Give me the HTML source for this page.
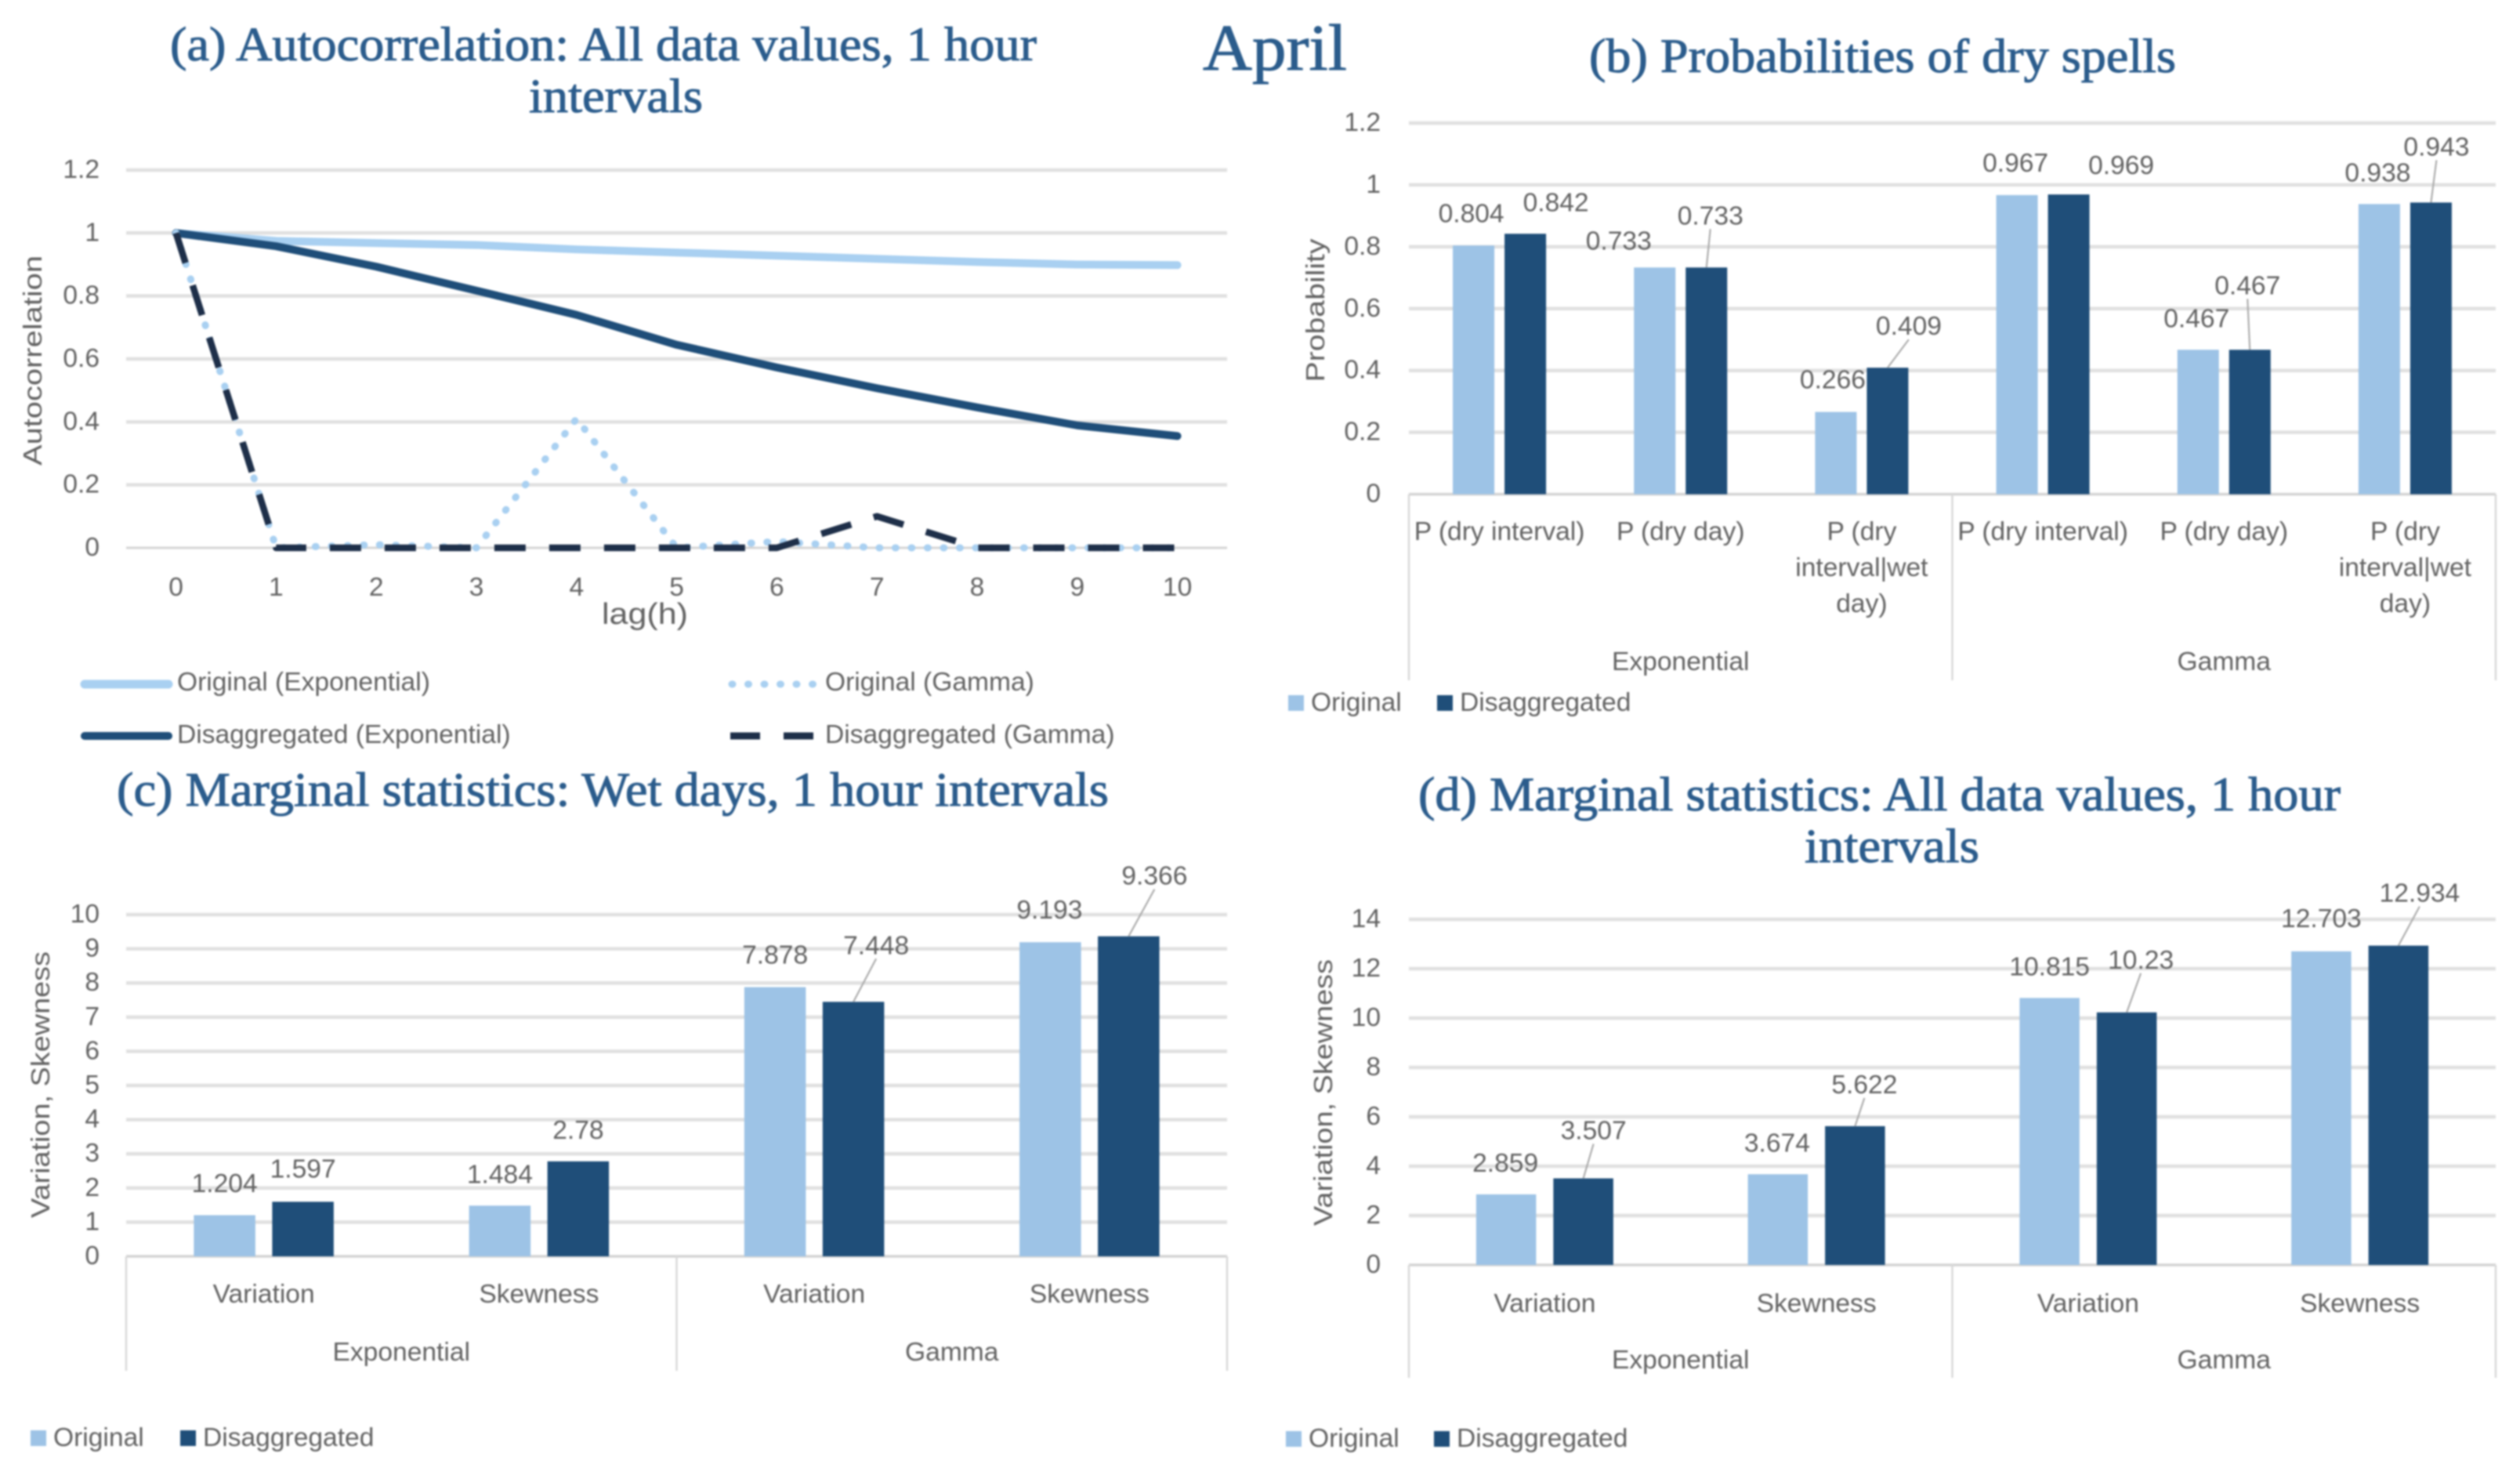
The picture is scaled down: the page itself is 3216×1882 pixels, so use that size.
<!DOCTYPE html>
<html lang="en">
<head>
<meta charset="utf-8">
<title>April disaggregation statistics</title>
<style>
html,body{margin:0;padding:0;background:#fff;}
#root{display:block;width:3216px;height:1882px;filter:blur(1.1px);}
.t{font-family:"Liberation Sans",sans-serif;font-size:33.6px;fill:#626262;}
.title{font-family:"Liberation Serif",serif;font-size:61px;fill:#2b5c8c;stroke:#2b5c8c;stroke-width:1px;}
</style>
</head>
<body>
<svg id="root" xmlns="http://www.w3.org/2000/svg" width="3216" height="1882" viewBox="0 0 3216 1882">
<rect width="3216" height="1882" fill="#fff"/>
<text class="title" x="1535" y="89" style="font-size:84px" textLength="184" lengthAdjust="spacingAndGlyphs">April</text>
<text class="title" x="217" y="77" textLength="1106" lengthAdjust="spacingAndGlyphs">(a) Autocorrelation: All data values, 1 hour</text>
<text class="title" x="675" y="143" textLength="222" lengthAdjust="spacingAndGlyphs">intervals</text>
<text class="title" x="2028" y="92" textLength="749" lengthAdjust="spacingAndGlyphs">(b) Probabilities of dry spells</text>
<text class="title" x="149" y="1028" textLength="1266" lengthAdjust="spacingAndGlyphs">(c) Marginal statistics: Wet days, 1 hour intervals</text>
<text class="title" x="1810" y="1034" textLength="1177" lengthAdjust="spacingAndGlyphs">(d) Marginal statistics: All data values, 1 hour</text>
<text class="title" x="2303" y="1100" textLength="223" lengthAdjust="spacingAndGlyphs">intervals</text>
<g id="charts"></g>
</svg>
<script>
// ---- Chart (a) data
const lags = ['0','1','2','3','4','5','6','7','8','9','10'];
const aYTicks = [0,0.2,0.4,0.6,0.8,1,1.2];
const origExp = [1,0.975,0.968,0.962,0.948,0.938,0.928,0.918,0.908,0.9,0.898];
const disExp = [1,0.958,0.893,0.817,0.74,0.645,0.573,0.507,0.446,0.389,0.355];
const origGamma = [1,0,0.01,0,0.41,0,0.02,0,0,0,0];
const disGamma = [1,0,0,0,0,0,0,0.1,0,0,0];

// ---- Chart (b) data
const bYTicks = [0,0.2,0.4,0.6,0.8,1,1.2];
const bCategories = [['P (dry interval)'],['P (dry day)'],['P (dry','interval|wet','day)'],['P (dry interval)'],['P (dry day)'],['P (dry','interval|wet','day)']];
const bOriginal = [0.804,0.733,0.266,0.967,0.467,0.938];
const bDisaggregated = [0.842,0.733,0.409,0.969,0.467,0.943];

// ---- Chart (c) data
const cYTicks = [0,1,2,3,4,5,6,7,8,9,10];
const cCategories = [['Variation'],['Skewness'],['Variation'],['Skewness']];
const cOriginal = [1.204,1.484,7.878,9.193];
const cDisaggregated = [1.597,2.78,7.448,9.366];

// ---- Chart (d) data
const dYTicks = [0,2,4,6,8,10,12,14];
const dCategories = [['Variation'],['Skewness'],['Variation'],['Skewness']];
const dOriginal = [2.859,3.674,10.815,12.703];
const dDisaggregated = [3.507,5.622,10.23,12.934];

const groups = ['Exponential','Gamma'];

const NS = 'http://www.w3.org/2000/svg';
const root = document.getElementById('charts');
const LIGHT = '#9dc3e6', DARK = '#1f4e79', GRID = '#e0e0e0';

function line(name, x1, y1, x2, y2, stroke, w) {
  const el = document.createElementNS(NS, 'line');
  
  
  el.setAttribute('x1', x1); el.setAttribute('y1', y1);
  el.setAttribute('x2', x2); el.setAttribute('y2', y2);
  el.setAttribute('stroke', stroke); el.setAttribute('stroke-width', w);
  root.appendChild(el);
  return el;
}
function rect(name, x, y, w, h, fill) {
  const el = document.createElementNS(NS, 'rect');
  
  
  el.setAttribute('x', x); el.setAttribute('y', y);
  el.setAttribute('width', w); el.setAttribute('height', h);
  el.setAttribute('fill', fill);
  root.appendChild(el);
  return el;
}
function text(name, x, cy, str, anchor, rot, len) {
  const el = document.createElementNS(NS, 'text');
  
  
  el.setAttribute('class', 't');
  el.setAttribute('text-anchor', anchor || 'middle');
  if (rot) {
    el.setAttribute('transform', 'translate(' + x + ',' + cy + ') rotate(-90)');
    el.setAttribute('x', 0); el.setAttribute('y', 12);
  } else {
    el.setAttribute('x', x); el.setAttribute('y', cy + 10);
  }
  if (len) {
    el.setAttribute('textLength', len);
    el.setAttribute('lengthAdjust', 'spacingAndGlyphs');
  }
  el.textContent = str;
  root.appendChild(el);
  return el;
}
function legendBars(c) {
  rect(c.id + '-legend-swatch-original', c.legend[0], c.legend[2] - 10, 20, 20, LIGHT);
  text(c.id + '-legend-label-original', c.legend[0] + 29, c.legend[2], 'Original', 'start');
  rect(c.id + '-legend-swatch-disaggregated', c.legend[1], c.legend[2] - 10, 20, 20, DARK);
  text(c.id + '-legend-label-disaggregated', c.legend[1] + 29, c.legend[2], 'Disaggregated', 'start');
}

// ---- Chart (a): line chart
(function () {
  const L = 161, R = 1566, Y0 = 699, K = 401.7, X0 = 224.6, DX = 127.8;
  const sx = i => X0 + DX * i;
  const sy = v => Y0 - K * v;
  aYTicks.forEach(t => {
    line('chart-a-gridline', L, sy(t), R, sy(t), t === 0 ? '#d4d4d4' : GRID, t === 0 ? 3 : 4.5);
    text('chart-a-y-tick', 127, sy(t), String(t), 'end');
  });
  lags.forEach((s, i) => text('chart-a-x-tick', sx(i), 750, s));
  text('chart-a-x-axis-title', 823, 786, 'lag(h)', 'middle', false, 110).style.fontSize = '38px';
  text('chart-a-y-axis-title', 41, 460, 'Autocorrelation', 'middle', true, 268);
  function series(name, vals, color, w, dash, cap) {
    const el = document.createElementNS(NS, 'polyline');
    
    
    el.setAttribute('points', vals.map((v, i) => sx(i) + ',' + sy(v)).join(' '));
    el.setAttribute('fill', 'none');
    el.setAttribute('stroke', color);
    el.setAttribute('stroke-width', w);
    el.setAttribute('stroke-linejoin', 'round');
    el.setAttribute('stroke-linecap', cap);
    if (dash) el.setAttribute('stroke-dasharray', dash);
    root.appendChild(el);
  }
  series('series-original-exponential', origExp, '#a9d0f1', 10, '', 'round');
  series('series-disaggregated-exponential', disExp, '#1f4e79', 10, '', 'round');
  series('series-original-gamma', origGamma, '#a9d0f1', 9, '1 19.5', 'round');
  series('series-disaggregated-gamma', disGamma, '#1e2f49', 8.5, '40 30', 'butt');
  function legendLine(name, x1, x2, y, color, w, dash, cap) {
    const el = line(name, x1, y, x2, y, color, w);
    el.setAttribute('stroke-linecap', cap);
    if (dash) el.setAttribute('stroke-dasharray', dash);
  }
  legendLine('legend-line-original-exponential', 108, 215, 873, '#a9d0f1', 11, '', 'round');
  text('legend-label-original-exponential', 226, 871, 'Original (Exponential)', 'start');
  legendLine('legend-line-disaggregated-exponential', 108, 215, 939, '#1f4e79', 10, '', 'round');
  text('legend-label-disaggregated-exponential', 226, 938, 'Disaggregated (Exponential)', 'start');
  legendLine('legend-line-original-gamma', 934, 1041, 873, '#a9d0f1', 9, '1 19.5', 'round');
  text('legend-label-original-gamma', 1053, 871, 'Original (Gamma)', 'start');
  legendLine('legend-line-disaggregated-gamma', 932, 1041, 939, '#1e2f49', 9, '38 30', 'butt');
  text('legend-label-disaggregated-gamma', 1053, 938, 'Disaggregated (Gamma)', 'start');
})();

// ---- Bar charts
function barChart(c) {
  const sy = v => c.y0 - c.k * v;
  const n = c.cats.length;
  const cw = (c.R - c.L) / n;
  c.ticks.forEach(t => {
    if (t !== 0) line(c.id + '-gridline', c.L, sy(t), c.R, sy(t), GRID, 4.5);
    text(c.id + '-y-tick', c.L - 36 + (c.id === 'chart-b' || c.id === 'chart-d' ? 0 : 2), sy(t), String(t), 'end');
  });
  text(c.id + '-y-axis-title', c.titleX, c.titleY, c.title, 'middle', true, c.titleLen);
  line(c.id + '-x-axis', c.L, c.y0, c.R, c.y0, '#d4d4d4', 3.5);
  [c.L, (c.L + c.R) / 2, c.R].forEach(x => line(c.id + '-group-divider', x, c.y0, x, c.tickEnd, '#d9d9d9', 2.5));
  c.cats.forEach((ls, i) => {
    ls.forEach((s, j) => text(c.id + '-category-label', c.L + cw * (i + .5), c.catY + j * 46, s));
  });
  groups.forEach((g, i) => text(c.id + '-group-label', c.L + (c.R - c.L) * (i * .5 + .25), c.groupY, g));

  const off = c.barW / 2 + c.gap / 2;
  function labels(vals, sgn, dxs, dys, lead, nm) {
    vals.forEach((v, i) => {
      const cx = c.L + cw * (i + .5) + sgn * off;
      const lx = cx + dxs[i], ly = sy(v) + dys[i];
      text(c.id + '-value-label-' + nm, lx, ly, String(v));
      if (lead[i]) line(c.id + '-leader-line', lx, ly + 16, cx, sy(v), '#a6a6a6', 2);
    });
  }
  // labels are drawn first so the neighbouring bar can clip them, as in the source
  labels(c.orig, -1, c.oDx, c.oDy, c.orig.map(() => 0), 'original');
  c.orig.forEach((v, i) => {
    const cx = c.L + cw * (i + .5) - off;
    rect(c.id + '-bar-original', cx - c.barW / 2, sy(v), c.barW, c.y0 - sy(v), LIGHT);
  });
  c.dis.forEach((v, i) => {
    const cx = c.L + cw * (i + .5) + off;
    rect(c.id + '-bar-disaggregated', cx - c.barW / 2, sy(v), c.barW, c.y0 - sy(v), DARK);
  });
  labels(c.dis, 1, c.dDx, c.dDy, c.dLead, 'disaggregated');
  legendBars(c);
}

barChart({id:'chart-b', L:1798, R:3185, y0:630.6, k:394.7, ticks:bYTicks, cats:bCategories,
  orig:bOriginal, dis:bDisaggregated, barW:53, gap:13, tickEnd:868, catY:679, groupY:845,
  title:'Probability', titleX:1678, titleY:396, titleLen:183,
  oDx:[-3,-46,-4,-2,-2,-2], oDy:[-40,-33,-40,-40,-39,-39],
  dDx:[39,5,27,67,-3,7], dDy:[-39,-65,-52,-36,-81,-70], dLead:[0,1,1,0,1,1],
  legend:[1644,1834,897]});

barChart({id:'chart-c', L:161, R:1566, y0:1603, k:43.6, ticks:cYTicks, cats:cCategories,
  orig:cOriginal, dis:cDisaggregated, barW:78.5, gap:21.5, tickEnd:1749, catY:1652, groupY:1726,
  title:'Variation, Skewness', titleX:51, titleY:1384, titleLen:340,
  oDx:[0,0,0,-1], oDy:[-39.5,-39,-40,-40],
  dDx:[0,0,29,33], dDy:[-41,-39,-71,-76], dLead:[0,0,1,1],
  legend:[39,230,1835]});

barChart({id:'chart-d', L:1798, R:3185, y0:1614, k:31.5, ticks:dYTicks, cats:dCategories,
  orig:dOriginal, dis:dDisaggregated, barW:76.5, gap:22, tickEnd:1758, catY:1664, groupY:1736,
  title:'Variation, Skewness', titleX:1688, titleY:1394, titleLen:340,
  oDx:[-1,-1,0,0], oDy:[-39,-39,-39,-41],
  dDx:[13,12,18,27], dDy:[-60,-52,-66,-66], dLead:[1,1,1,1],
  legend:[1641,1830,1836]});
</script>
</body>
</html>
